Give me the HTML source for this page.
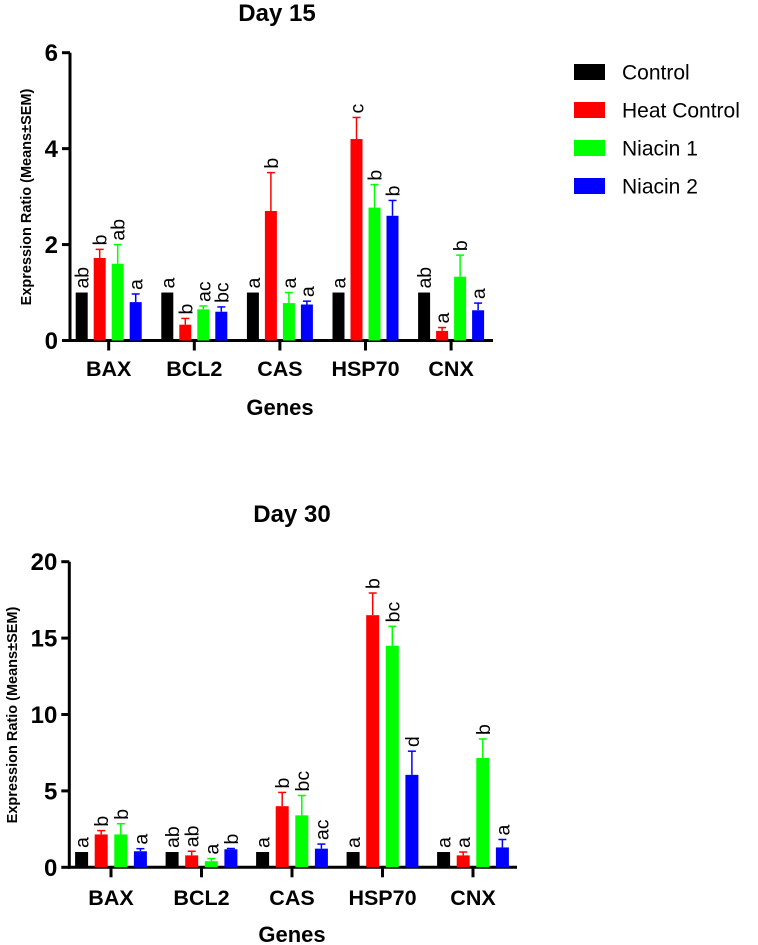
<!DOCTYPE html>
<html><head><meta charset="utf-8"><style>
body{margin:0;background:#fff}
svg{display:block;font-family:"Liberation Sans",Arial,sans-serif}
</style></head><body>
<svg id="c" width="758" height="945" viewBox="0 0 758 945"></svg>
<script>
const genes = ["BAX","BCL2","CAS","HSP70","CNX"];
const seriesNames = ["Control","Heat Control","Niacin 1","Niacin 2"];
const colors = ["#000000","#ff0000","#00ff00","#0000ff"];
const d15Means = [[1,1,1,1,1],[1.72,0.33,2.7,4.2,0.2],[1.6,0.65,0.78,2.77,1.33],[0.8,0.6,0.75,2.6,0.63]];
const d15Err = [[0,0,0,0,0],[0.18,0.13,0.8,0.45,0.07],[0.4,0.07,0.22,0.48,0.45],[0.17,0.1,0.07,0.32,0.15]];
const d15Letters = [["ab","a","a","a","ab"],["b","b","b","c","a"],["ab","ac","a","b","b"],["a","bc","a","b","a"]];
const d15Ticks = [0,2,4,6];
const d30Means = [[1,1,1,1,1],[2.15,0.78,4.0,16.5,0.78],[2.15,0.4,3.4,14.5,7.15],[1.05,1.18,1.22,6.05,1.3]];
const d30Err = [[0,0,0,0,0],[0.25,0.27,0.9,1.45,0.22],[0.7,0.17,1.3,1.27,1.25],[0.17,0.05,0.3,1.55,0.52]];
const d30Letters = [["a","ab","a","a","a"],["b","ab","b","b","a"],["b","a","bc","bc","b"],["a","b","ac","d","a"]];
const d30Ticks = [0,5,10,15,20];

const svg=document.getElementById('c');
const NS="http://www.w3.org/2000/svg";
function mk(tag,attrs,parent){const e=document.createElementNS(NS,tag);for(const k in attrs)e.setAttribute(k,attrs[k]);(parent||svg).appendChild(e);return e;}

function chart(p){
  const g=mk('g',{});
  
  
  const y=v=>p.y0-(v/p.max)*(p.y0-p.yTop);
  const cx=i=>p.c0+i*p.step;
  let t=mk('text',{x:p.titleX,y:p.titleY,'font-size':24,'font-weight':'bold','text-anchor':'middle'},g);t.textContent=p.title;
  
  
  let ax=mk('line',{x1:p.ax,y1:p.yTop,x2:p.ax,y2:p.y0+1.5,stroke:'#000','stroke-width':3},g);
  
  
  let xx=mk('line',{x1:p.ax-1.5,y1:p.y0,x2:p.xEnd,y2:p.y0,stroke:'#000','stroke-width':3},g);
  
  
  p.ticks.forEach(v=>{
    mk('line',{x1:p.ax-8,y1:y(v),x2:p.ax,y2:y(v),stroke:'#000','stroke-width':3},g);
    const tl=mk('text',{x:p.ax-12,y:y(v)+8.5,'font-size':24,'font-weight':'bold','text-anchor':'end'},g);tl.textContent=v;
    
    
  });
  genes.forEach((gn,i)=>{
    mk('line',{x1:cx(i),y1:p.y0,x2:cx(i),y2:p.y0+10,stroke:'#000','stroke-width':3},g);
    const tl=mk('text',{x:cx(i),y:p.geneY,'font-size':21.5,'font-weight':'bold','text-anchor':'middle'},g);tl.textContent=gn;
    
    
    for(let s=0;s<4;s++){
      const xl=cx(i)-1.5*p.bstep-p.bw/2+s*p.bstep;
      const m=p.means[s][i],e=p.err[s][i];
      if(e>0){
        mk('line',{x1:xl+p.bw/2,y1:y(m),x2:xl+p.bw/2,y2:y(m+e),stroke:colors[s],'stroke-width':1.5},g);
        mk('line',{x1:xl+p.bw/2-4,y1:y(m+e),x2:xl+p.bw/2+4,y2:y(m+e),stroke:colors[s],'stroke-width':1.5},g);
      }
      const r=mk('rect',{x:xl,y:y(m),width:p.bw,height:p.y0-y(m),fill:colors[s]},g);
      
      
      const ly=y(m+e)-4, lx=xl+p.bw/2+7;
      const lt=mk('text',{x:lx,y:ly,'font-size':19.5,transform:`rotate(-90 ${lx} ${ly})`},g);lt.textContent=p.letters[s][i];
      
      
    }
  });
  const yt=mk('text',{x:p.ylabX,y:p.ylabY,'font-size':14.5,'font-weight':'bold','text-anchor':'middle',transform:`rotate(-90 ${p.ylabX} ${p.ylabY})`},g);
  yt.textContent='Expression Ratio (Means±SEM)';
  
  
  const xt=mk('text',{x:p.genesX,y:p.genesY,'font-size':22,'font-weight':'bold','text-anchor':'middle'},g);xt.textContent='Genes';
  
  
}
chart({name:'day15-chart',title:'Day 15',titleX:277,titleY:21,ax:70,xEnd:493,y0:340.5,yTop:52.7,max:6,ticks:d15Ticks,
  c0:108.7,step:85.6,bw:12,bstep:18,means:d15Means,err:d15Err,letters:d15Letters,geneY:376,ylabX:31,ylabY:197,genesX:280,genesY:415});
chart({name:'day30-chart',title:'Day 30',titleX:292,titleY:522,ax:69.3,xEnd:517,y0:867.3,yTop:561.7,max:20,ticks:d30Ticks,
  c0:111,step:90.5,bw:13,bstep:19.6,means:d30Means,err:d30Err,letters:d30Letters,geneY:905,ylabX:17,ylabY:715,genesX:292,genesY:942});
// legend
seriesNames.forEach((n,s)=>{
  const yy=72+s*38;
  const r=mk('rect',{x:574,y:yy-8,width:31,height:16,fill:colors[s]});
  
  
  const t=mk('text',{x:622,y:yy+7.5,'font-size':21});t.textContent=n;
  
  
});
</script>
</body></html>
